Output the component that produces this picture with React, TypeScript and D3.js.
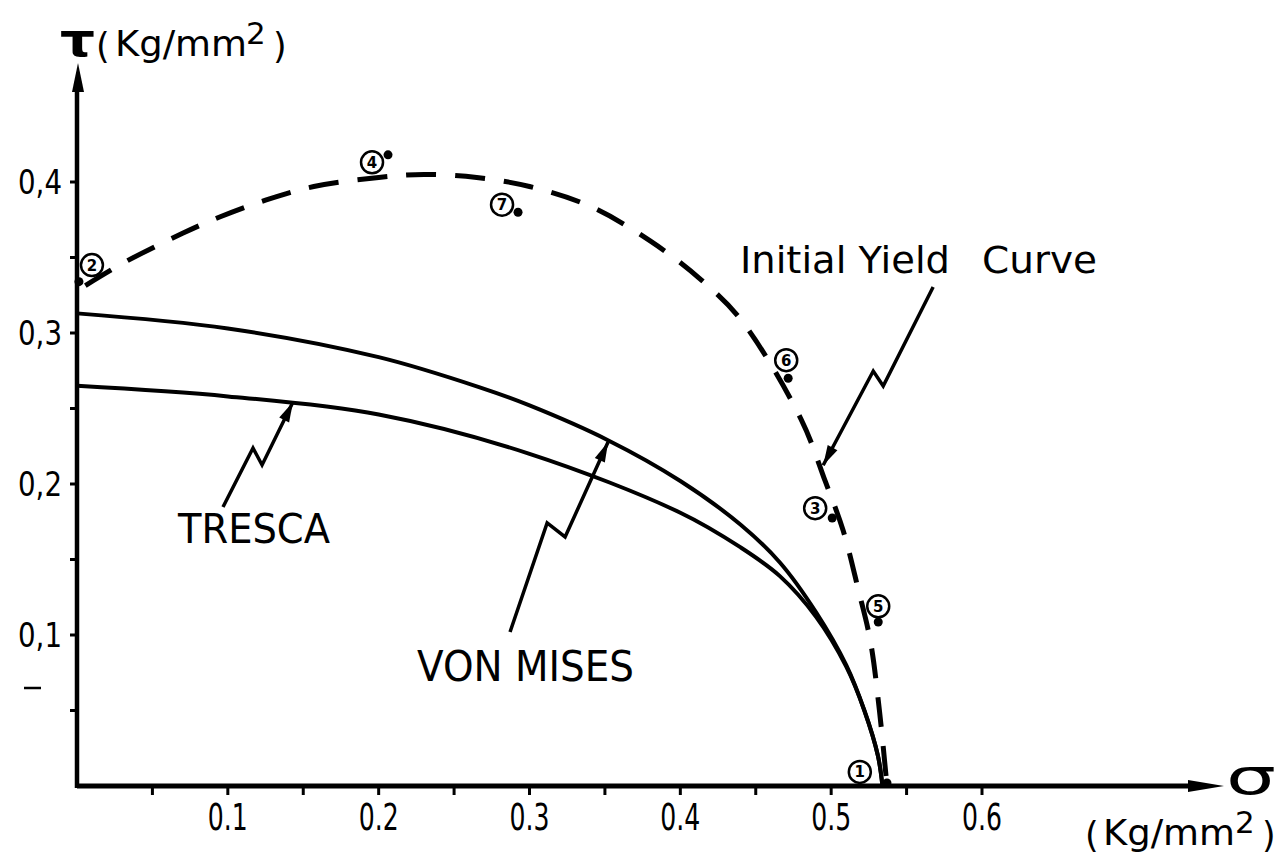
import React, { useEffect } from "react";
import * as d3 from "d3";

const W = 1286;
const H = 858;

// Axis ticks
const xTickValues = [0.05, 0.1, 0.15, 0.2, 0.25, 0.3, 0.35, 0.4, 0.45, 0.5, 0.55, 0.6];
const xTickLabels = ["0.1", "0.2", "0.3", "0.4", "0.5", "0.6"];
const xLabelValues = [0.1, 0.2, 0.3, 0.4, 0.5, 0.6];
const yTickValues = [0.05, 0.1, 0.15, 0.2, 0.25, 0.3, 0.35, 0.4];
const yLabelValues = [0.1, 0.2, 0.3, 0.4];
const yTickLabels = ["0,1", "0,2", "0,3", "0,4"];

// Von Mises curve (sigma, tau)
const vonMisesSigma = [0, 0.1, 0.2, 0.267, 0.3, 0.352, 0.4, 0.44, 0.466, 0.49, 0.51, 0.522, 0.531, 0.534];
const vonMisesTau = [0.313, 0.303, 0.284, 0.264, 0.252, 0.229, 0.202, 0.173, 0.148, 0.115, 0.08, 0.05, 0.02, 0];

// Tresca curve
const trescaSigma = [0, 0.1, 0.2, 0.3, 0.4, 0.44, 0.466, 0.49, 0.51, 0.522, 0.531, 0.534];
const trescaTau = [0.265, 0.258, 0.246, 0.22, 0.181, 0.158, 0.139, 0.112, 0.079, 0.05, 0.02, 0];

// Initial yield curve (dashed)
const yieldSigma = [0, 0.03, 0.07, 0.095, 0.125, 0.157, 0.2, 0.23, 0.265, 0.3, 0.34, 0.38, 0.414, 0.44, 0.48, 0.496, 0.508, 0.518, 0.526, 0.532, 0.537];
const yieldTau = [0.328, 0.346, 0.366, 0.377, 0.388, 0.397, 0.403, 0.405, 0.403, 0.397, 0.384, 0.361, 0.335, 0.309, 0.243, 0.202, 0.169, 0.13, 0.096, 0.05, 0];

// Experimental points: numbered circle positions and data dots
const pointIds = ["1", "2", "3", "4", "5", "6", "7"];
const labelSigma = [0.519, 0.0099, 0.4894, 0.1956, 0.5312, 0.4702, 0.2818];
const labelTau = [0.0093, 0.345, 0.184, 0.413, 0.119, 0.282, 0.385];
const dotSigma = [0.537, 0.0013, 0.5007, 0.2062, 0.5312, 0.4715, 0.2924];
const dotTau = [0.002, 0.334, 0.1775, 0.418, 0.1086, 0.27, 0.38];

// Annotation arrows (zig-zag leaders), in data units
const yieldArrowSigma = [0.5676, 0.5345, 0.5279, 0.4947];
const yieldArrowTau = [0.3305, 0.2649, 0.2748, 0.2124];
const trescaArrowSigma = [0.0968, 0.1167, 0.1227, 0.1432];
const trescaArrowTau = [0.1848, 0.2238, 0.2126, 0.2543];
const misesArrowSigma = [0.2871, 0.3117, 0.3236, 0.3521];
const misesArrowTau = [0.102, 0.1742, 0.1649, 0.2278];

const FONT = "'DejaVu Sans', 'Liberation Sans', sans-serif";

export default function App() {
  useEffect(() => {
    document.body.style.margin = "0";
    document.body.style.background = "#fff";
  }, []);

  const x = d3.scaleLinear().domain([0, 0.6]).range([77, 982]);
  const y = d3.scaleLinear().domain([0, 0.4]).range([786, 182]);

  const line = d3
    .line<[number, number]>()
    .x((d) => x(d[0]))
    .y((d) => y(d[1]))
    .curve(d3.curveCatmullRom.alpha(0.5));
  const straight = d3
    .line<[number, number]>()
    .x((d) => x(d[0]))
    .y((d) => y(d[1]));

  const zip = (a: number[], b: number[]) => a.map((v, i) => [v, b[i]] as [number, number]);

  const arrowHead = (pts: [number, number][], len = 20, half = 5.5) => {
    const [tx, ty] = [x(pts[pts.length - 1][0]), y(pts[pts.length - 1][1])];
    const [px, py] = [x(pts[pts.length - 2][0]), y(pts[pts.length - 2][1])];
    const dx = tx - px;
    const dy = ty - py;
    const L = Math.hypot(dx, dy);
    const ux = dx / L;
    const uy = dy / L;
    const bx = tx - ux * len;
    const by = ty - uy * len;
    return `M${tx},${ty}L${bx - uy * half},${by + ux * half}L${bx + uy * half},${by - ux * half}Z`;
  };

  const yieldArrow = zip(yieldArrowSigma, yieldArrowTau);
  const trescaArrow = zip(trescaArrowSigma, trescaArrowTau);
  const misesArrow = zip(misesArrowSigma, misesArrowTau);

  const x0 = x(0);
  const y0 = y(0);

  return (
    <svg
      width={W}
      height={H}
      viewBox={`0 0 ${W} ${H}`}
      style={{ position: "absolute", left: 0, top: 0, background: "#fff" }}
      fontFamily={FONT}
    >
      <rect x={0} y={0} width={W} height={H} fill="#fff" />

      {/* Axes */}
      <line x1={x0} y1={y0} x2={1195} y2={y0} stroke="#000" strokeWidth={5} />
      <path d={`M1224,${y0}L1188,${y0 - 6}L1188,${y0 + 6}Z`} fill="#000" />
      <line x1={x0} y1={y0 + 2} x2={x0} y2={85} stroke="#000" strokeWidth={4.5} />
      <path d={`M${x0 + 1},63L${x0 - 5},92L${x0 + 7},92Z`} fill="#000" />

      {/* X ticks */}
      {xTickValues.map((v) => (
        <line key={"xt" + v} x1={x(v)} y1={y0} x2={x(v)} y2={y0 + 9} stroke="#000" strokeWidth={3} />
      ))}
      {xLabelValues.map((v, i) => (
        <text
          key={"xl" + v}
          x={x(v) - 20}
          y={830}
          fontSize={37}
          textLength={40}
          lengthAdjust="spacingAndGlyphs"
        >
          {xTickLabels[i]}
        </text>
      ))}

      {/* Y ticks */}
      {yTickValues.map((v) => (
        <line key={"yt" + v} x1={x0} y1={y(v)} x2={x0 - 7} y2={y(v)} stroke="#000" strokeWidth={3} />
      ))}
      {yLabelValues.map((v, i) => (
        <text
          key={"yl" + v}
          x={18}
          y={y(v) + 12}
          fontSize={34}
          textLength={44}
          lengthAdjust="spacingAndGlyphs"
        >
          {yTickLabels[i]}
        </text>
      ))}
      <line x1={24} y1={688} x2={41} y2={688} stroke="#000" strokeWidth={2.5} />

      {/* Y axis title */}
      <text x={60} y={56} fontSize={46} fontWeight="bold" textLength={35} lengthAdjust="spacingAndGlyphs">
        τ
      </text>
      <text x={96} y={58} fontSize={35}>(</text>
      <text x={115} y={56} fontSize={35} textLength={132} lengthAdjust="spacingAndGlyphs">
        Kg/mm
      </text>
      <text x={246} y={44} fontSize={31}>2</text>
      <text x={273} y={58} fontSize={35}>)</text>

      {/* X axis title */}
      <text x={1226} y={794} fontSize={50} textLength={50} lengthAdjust="spacingAndGlyphs">
        σ
      </text>
      <text x={1085} y={847} fontSize={35}>(</text>
      <text x={1103} y={845} fontSize={35} textLength={132} lengthAdjust="spacingAndGlyphs">
        Kg/mm
      </text>
      <text x={1235} y={833} fontSize={31}>2</text>
      <text x={1262} y={847} fontSize={35}>)</text>

      {/* Curves */}
      <path d={line(zip(vonMisesSigma, vonMisesTau)) || ""} fill="none" stroke="#000" strokeWidth={4} />
      <path d={line(zip(trescaSigma, trescaTau)) || ""} fill="none" stroke="#000" strokeWidth={4} />
      <path
        d={line(zip(yieldSigma, yieldTau)) || ""}
        fill="none"
        stroke="#000"
        strokeWidth={5}
        strokeDasharray="30 19"
        strokeDashoffset={-10}
      />

      {/* Experimental points */}
      {pointIds.map((id, i) => (
        <g key={"p" + id}>
          <circle cx={x(dotSigma[i])} cy={y(dotTau[i])} r={4.5} fill="#000" />
          <circle
            cx={x(labelSigma[i])}
            cy={y(labelTau[i])}
            r={11}
            fill="#fff"
            stroke="#000"
            strokeWidth={2.5}
          />
          <text
            x={x(labelSigma[i])}
            y={y(labelTau[i]) + 5.5}
            fontSize={15}
            fontWeight="bold"
            textAnchor="middle"
          >
            {id}
          </text>
        </g>
      ))}

      {/* Annotation leaders */}
      <path d={straight(yieldArrow) || ""} fill="none" stroke="#000" strokeWidth={3.5} strokeLinejoin="miter" />
      <path d={arrowHead(yieldArrow)} fill="#000" />
      <path d={straight(trescaArrow) || ""} fill="none" stroke="#000" strokeWidth={3.5} />
      <path d={arrowHead(trescaArrow)} fill="#000" />
      <path d={straight(misesArrow) || ""} fill="none" stroke="#000" strokeWidth={3.5} />
      <path d={arrowHead(misesArrow)} fill="#000" />

      {/* Labels */}
      <text x={740} y={273} fontSize={38} textLength={210} lengthAdjust="spacingAndGlyphs">
        Initial Yield
      </text>
      <text x={982} y={273} fontSize={38} textLength={115} lengthAdjust="spacingAndGlyphs">
        Curve
      </text>
      <text x={178} y={543} fontSize={40} textLength={152} lengthAdjust="spacingAndGlyphs">
        TRESCA
      </text>
      <text x={417} y={681} fontSize={42} textLength={217} lengthAdjust="spacingAndGlyphs">
        VON MISES
      </text>
    </svg>
  );
}
